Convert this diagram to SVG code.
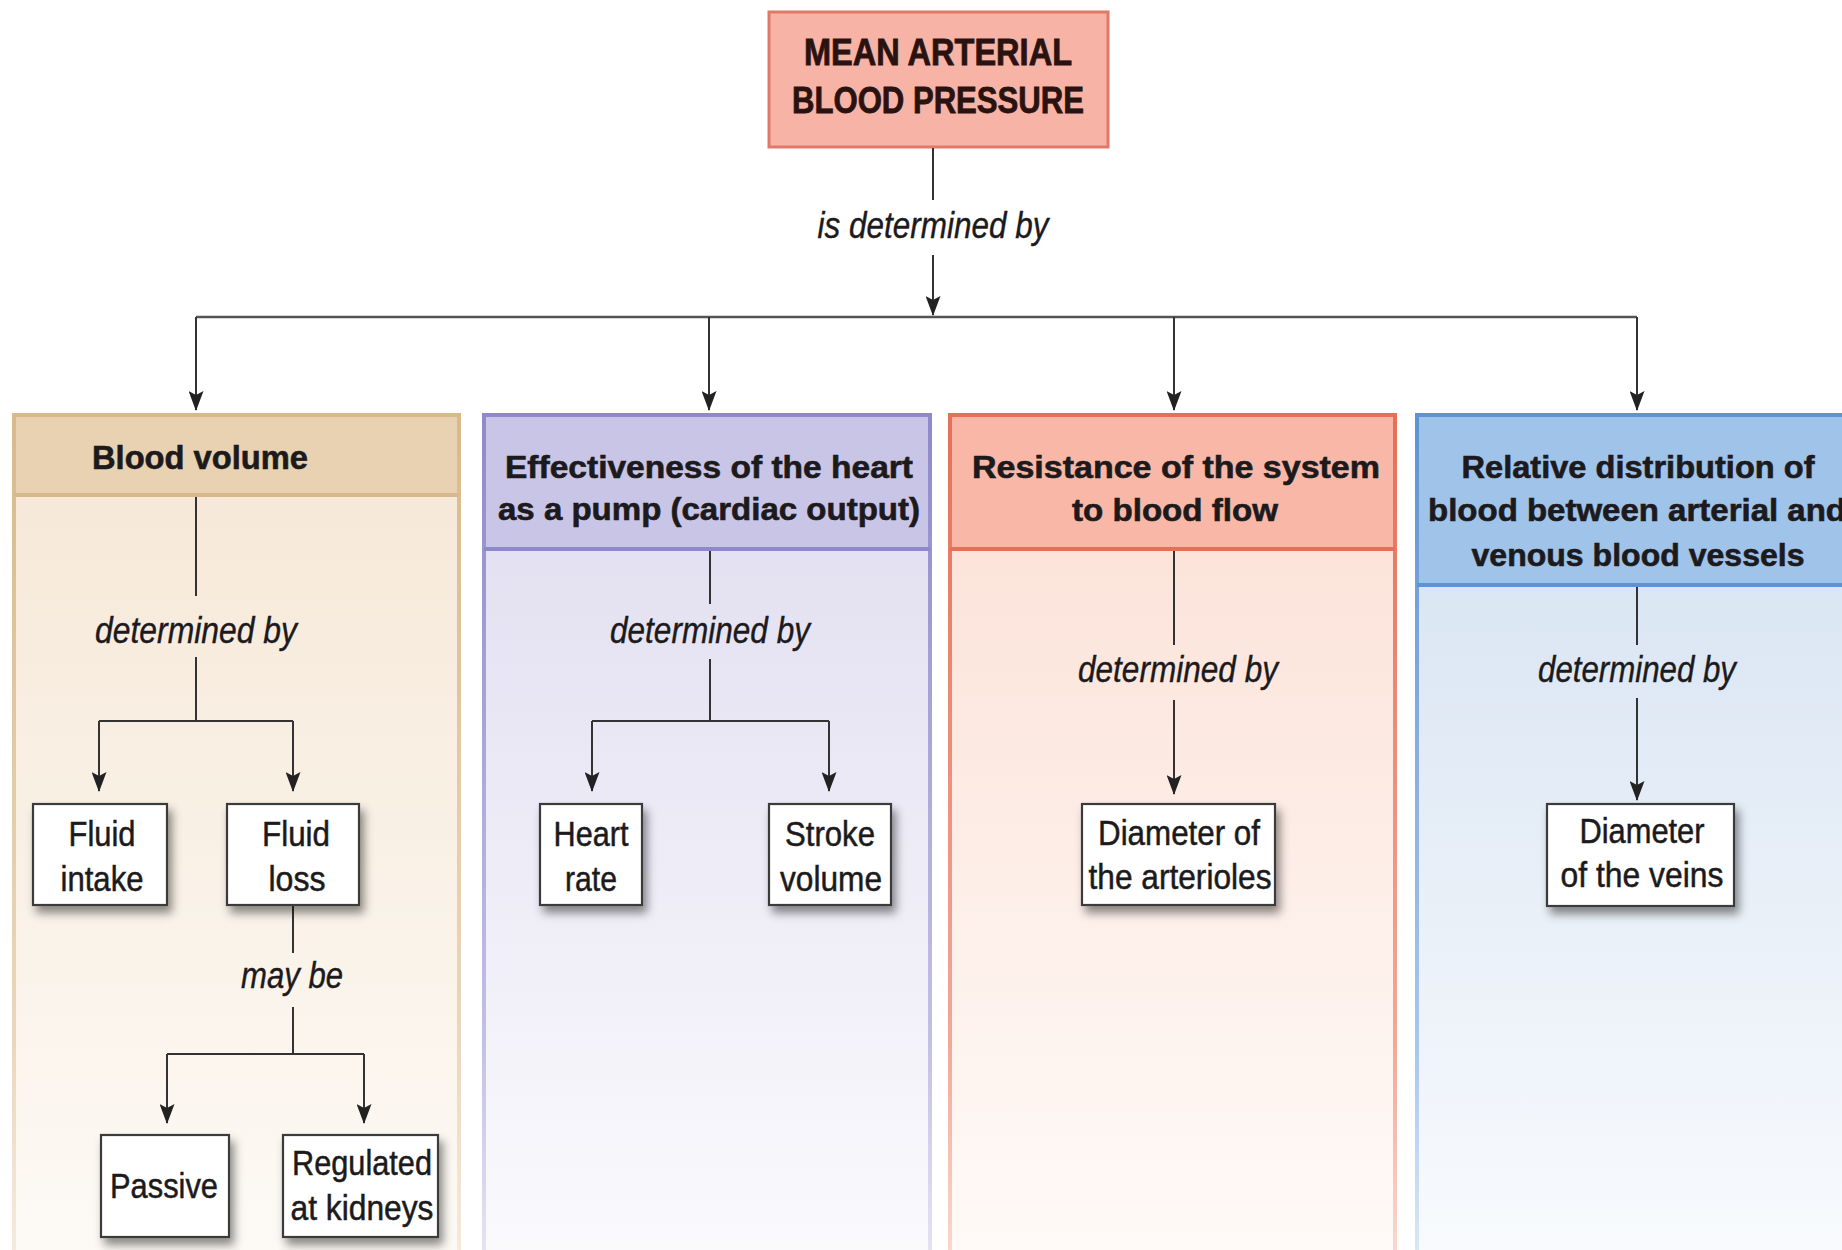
<svg xmlns="http://www.w3.org/2000/svg" width="1842" height="1250" viewBox="0 0 1842 1250">
<defs>
<style>
.t{font-family:"Liberation Sans",Arial,sans-serif;fill:#1c1a1c;text-anchor:middle}
.hb{font-weight:bold;font-size:31px;stroke:#1c1a1c;stroke-width:0.6}
.top{font-weight:bold;font-size:36px;fill:#2a1210;stroke:#2a1210;stroke-width:0.8}
.it{font-style:italic;font-size:37px;stroke:#1c1a1c;stroke-width:0.4}
.bx{font-size:35px;stroke:#1c1a1c;stroke-width:0.5}
.ln{stroke:#333;stroke-width:2;fill:none}
.main{stroke:#555;stroke-width:2.5;fill:none}
.box{fill:#fff;stroke:#3a3a3a;stroke-width:2.2}
</style>
<marker id="ah" viewBox="0 0 20 15" markerWidth="20" markerHeight="15" refX="19" refY="7.5" orient="auto" markerUnits="userSpaceOnUse">
<path d="M0,0 L20,7.5 L0,15 L4,7.5 z" fill="#222"/>
</marker>
<filter id="sh" x="-30%" y="-30%" width="160%" height="170%">
<feDropShadow dx="4" dy="7" stdDeviation="5" flood-color="#000" flood-opacity="0.45"/>
</filter>
<linearGradient id="g1" x1="0" y1="0" x2="0" y2="1"><stop offset="0" stop-color="#f6e7d6"/><stop offset="1" stop-color="#fdfbf7"/></linearGradient>
<linearGradient id="g2" x1="0" y1="0" x2="0" y2="1"><stop offset="0" stop-color="#dfdcef"/><stop offset="1" stop-color="#fcfcfe"/></linearGradient>
<linearGradient id="g3" x1="0" y1="0" x2="0" y2="1"><stop offset="0" stop-color="#fbdfd4"/><stop offset="1" stop-color="#fffcfa"/></linearGradient>
<linearGradient id="g4" x1="0" y1="0" x2="0" y2="1"><stop offset="0" stop-color="#d3e1f1"/><stop offset="1" stop-color="#fbfcfe"/></linearGradient>
<linearGradient id="b1" x1="0" y1="0" x2="0" y2="1"><stop offset="0" stop-color="#d8b98a"/><stop offset="0.7" stop-color="#ead8bd"/><stop offset="1" stop-color="#f8f0e6"/></linearGradient>
<linearGradient id="b2" x1="0" y1="0" x2="0" y2="1"><stop offset="0" stop-color="#8f89cb"/><stop offset="0.7" stop-color="#c3c0e6"/><stop offset="1" stop-color="#eeeef8"/></linearGradient>
<linearGradient id="b3" x1="0" y1="0" x2="0" y2="1"><stop offset="0" stop-color="#e66f58"/><stop offset="0.7" stop-color="#f3a896"/><stop offset="1" stop-color="#fbe6df"/></linearGradient>
<linearGradient id="b4" x1="0" y1="0" x2="0" y2="1"><stop offset="0" stop-color="#5d93d3"/><stop offset="0.7" stop-color="#a9c6ea"/><stop offset="1" stop-color="#e8f0fa"/></linearGradient>
</defs>
<rect width="1842" height="1250" fill="#fff"/>

<g id="top-node">
<rect x="769" y="12" width="339" height="135" fill="#f7b4a6" stroke="#e2786a" stroke-width="3"/>
<text class="t top" x="938" y="65" textLength="268" lengthAdjust="spacingAndGlyphs">MEAN ARTERIAL</text>
<text class="t top" x="938" y="113" textLength="292" lengthAdjust="spacingAndGlyphs">BLOOD PRESSURE</text>
</g>

<g id="panel-blood-volume">
<rect x="14" y="415" width="445" height="900" fill="url(#g1)" stroke="url(#b1)" stroke-width="4"/>
<rect x="16" y="417" width="441" height="77" fill="#e8d2b2"/>
<line x1="14" y1="495" x2="459" y2="495" stroke="#d7b98c" stroke-width="4"/>
<text class="t hb" x="200" y="469" style="font-size:33px" textLength="216" lengthAdjust="spacingAndGlyphs">Blood volume</text>
</g>
<g id="panel-cardiac-output">
<rect x="484" y="415" width="446" height="900" fill="url(#g2)" stroke="url(#b2)" stroke-width="4"/>
<rect x="486" y="417" width="442" height="131" fill="#c9c5e6"/>
<line x1="484" y1="549" x2="930" y2="549" stroke="#8f89cb" stroke-width="4"/>
<text class="t hb" x="709" y="478" textLength="408" lengthAdjust="spacingAndGlyphs">Effectiveness of the heart</text>
<text class="t hb" x="709" y="520" textLength="422" lengthAdjust="spacingAndGlyphs">as a pump (cardiac output)</text>
</g>
<g id="panel-resistance">
<rect x="950" y="415" width="445" height="900" fill="url(#g3)" stroke="url(#b3)" stroke-width="4"/>
<rect x="952" y="417" width="441" height="131" fill="#f9b8a7"/>
<line x1="950" y1="549" x2="1395" y2="549" stroke="#e66f58" stroke-width="4"/>
<text class="t hb" x="1176" y="478" textLength="408" lengthAdjust="spacingAndGlyphs">Resistance of the system</text>
<text class="t hb" x="1175" y="521" textLength="206" lengthAdjust="spacingAndGlyphs">to blood flow</text>
</g>
<g id="panel-distribution">
<rect x="1417" y="415" width="460" height="900" fill="url(#g4)" stroke="url(#b4)" stroke-width="4"/>
<rect x="1419" y="417" width="456" height="167" fill="#a0c3e9"/>
<line x1="1417" y1="585" x2="1877" y2="585" stroke="#5d93d3" stroke-width="4"/>
<text class="t hb" x="1638" y="478" textLength="353" lengthAdjust="spacingAndGlyphs">Relative distribution of</text>
<text class="t hb" x="1428" y="521" style="text-anchor:start" textLength="418" lengthAdjust="spacingAndGlyphs">blood between arterial and</text>
<text class="t hb" x="1638" y="566" textLength="333" lengthAdjust="spacingAndGlyphs">venous blood vessels</text>
</g>

<g id="connectors">
<line class="ln" x1="933" y1="148" x2="933" y2="200"/>
<text class="t it" x="933" y="238" textLength="231" lengthAdjust="spacingAndGlyphs">is determined by</text>
<line class="ln" x1="933" y1="255" x2="933" y2="315" marker-end="url(#ah)"/>
<line class="main" x1="196" y1="317" x2="1637" y2="317"/>
<line class="ln" x1="196" y1="317" x2="196" y2="410" marker-end="url(#ah)"/>
<line class="ln" x1="709" y1="317" x2="709" y2="410" marker-end="url(#ah)"/>
<line class="ln" x1="1174" y1="317" x2="1174" y2="410" marker-end="url(#ah)"/>
<line class="ln" x1="1637" y1="317" x2="1637" y2="410" marker-end="url(#ah)"/>

<line class="ln" x1="196" y1="497" x2="196" y2="596"/>
<text class="t it" x="196" y="643" textLength="202" lengthAdjust="spacingAndGlyphs">determined by</text>
<path class="ln" d="M196,657 V721 M99,721 H293"/>
<line class="ln" x1="99" y1="721" x2="99" y2="791" marker-end="url(#ah)"/>
<line class="ln" x1="293" y1="721" x2="293" y2="791" marker-end="url(#ah)"/>
<line class="ln" x1="293" y1="905" x2="293" y2="953"/>
<text class="t it" x="292" y="988" textLength="102" lengthAdjust="spacingAndGlyphs">may be</text>
<path class="ln" d="M293,1007 V1054 M167,1054 H364"/>
<line class="ln" x1="167" y1="1054" x2="167" y2="1123" marker-end="url(#ah)"/>
<line class="ln" x1="364" y1="1054" x2="364" y2="1123" marker-end="url(#ah)"/>

<line class="ln" x1="710" y1="551" x2="710" y2="604"/>
<text class="t it" x="710" y="643" textLength="200" lengthAdjust="spacingAndGlyphs">determined by</text>
<path class="ln" d="M710,659 V721 M592,721 H829"/>
<line class="ln" x1="592" y1="721" x2="592" y2="791" marker-end="url(#ah)"/>
<line class="ln" x1="829" y1="721" x2="829" y2="791" marker-end="url(#ah)"/>

<line class="ln" x1="1174" y1="551" x2="1174" y2="645"/>
<text class="t it" x="1178" y="682" textLength="200" lengthAdjust="spacingAndGlyphs">determined by</text>
<line class="ln" x1="1174" y1="700" x2="1174" y2="794" marker-end="url(#ah)"/>

<line class="ln" x1="1637" y1="587" x2="1637" y2="645"/>
<text class="t it" x="1637" y="682" textLength="198" lengthAdjust="spacingAndGlyphs">determined by</text>
<line class="ln" x1="1637" y1="698" x2="1637" y2="800" marker-end="url(#ah)"/>
</g>

<g id="fluid-intake">
<rect class="box" x="33" y="804" width="134" height="101" filter="url(#sh)"/>
<text class="t bx" x="102" y="846" textLength="67" lengthAdjust="spacingAndGlyphs">Fluid</text>
<text class="t bx" x="102" y="891" textLength="83" lengthAdjust="spacingAndGlyphs">intake</text>
</g>
<g id="fluid-loss">
<rect class="box" x="227" y="804" width="132" height="101" filter="url(#sh)"/>
<text class="t bx" x="296" y="846" textLength="68" lengthAdjust="spacingAndGlyphs">Fluid</text>
<text class="t bx" x="297" y="891" textLength="57" lengthAdjust="spacingAndGlyphs">loss</text>
</g>
<g id="passive">
<rect class="box" x="101" y="1135" width="128" height="102" filter="url(#sh)"/>
<text class="t bx" x="164" y="1198" textLength="108" lengthAdjust="spacingAndGlyphs">Passive</text>
</g>
<g id="regulated">
<rect class="box" x="283" y="1135" width="155" height="102" filter="url(#sh)"/>
<text class="t bx" x="362" y="1175" textLength="140" lengthAdjust="spacingAndGlyphs">Regulated</text>
<text class="t bx" x="362" y="1220" textLength="143" lengthAdjust="spacingAndGlyphs">at kidneys</text>
</g>
<g id="heart-rate">
<rect class="box" x="540" y="804" width="102" height="101" filter="url(#sh)"/>
<text class="t bx" x="591" y="846" textLength="75" lengthAdjust="spacingAndGlyphs">Heart</text>
<text class="t bx" x="591" y="891" textLength="52" lengthAdjust="spacingAndGlyphs">rate</text>
</g>
<g id="stroke-volume">
<rect class="box" x="769" y="804" width="122" height="101" filter="url(#sh)"/>
<text class="t bx" x="830" y="846" textLength="90" lengthAdjust="spacingAndGlyphs">Stroke</text>
<text class="t bx" x="831" y="891" textLength="102" lengthAdjust="spacingAndGlyphs">volume</text>
</g>
<g id="diameter-arterioles">
<rect class="box" x="1082" y="804" width="193" height="101" filter="url(#sh)"/>
<text class="t bx" x="1179" y="845" textLength="162" lengthAdjust="spacingAndGlyphs">Diameter of</text>
<text class="t bx" x="1180" y="889" textLength="183" lengthAdjust="spacingAndGlyphs">the arterioles</text>
</g>
<g id="diameter-veins">
<rect class="box" x="1547" y="804" width="187" height="102" filter="url(#sh)"/>
<text class="t bx" x="1642" y="843" textLength="125" lengthAdjust="spacingAndGlyphs">Diameter</text>
<text class="t bx" x="1642" y="887" textLength="163" lengthAdjust="spacingAndGlyphs">of the veins</text>
</g>
</svg>
